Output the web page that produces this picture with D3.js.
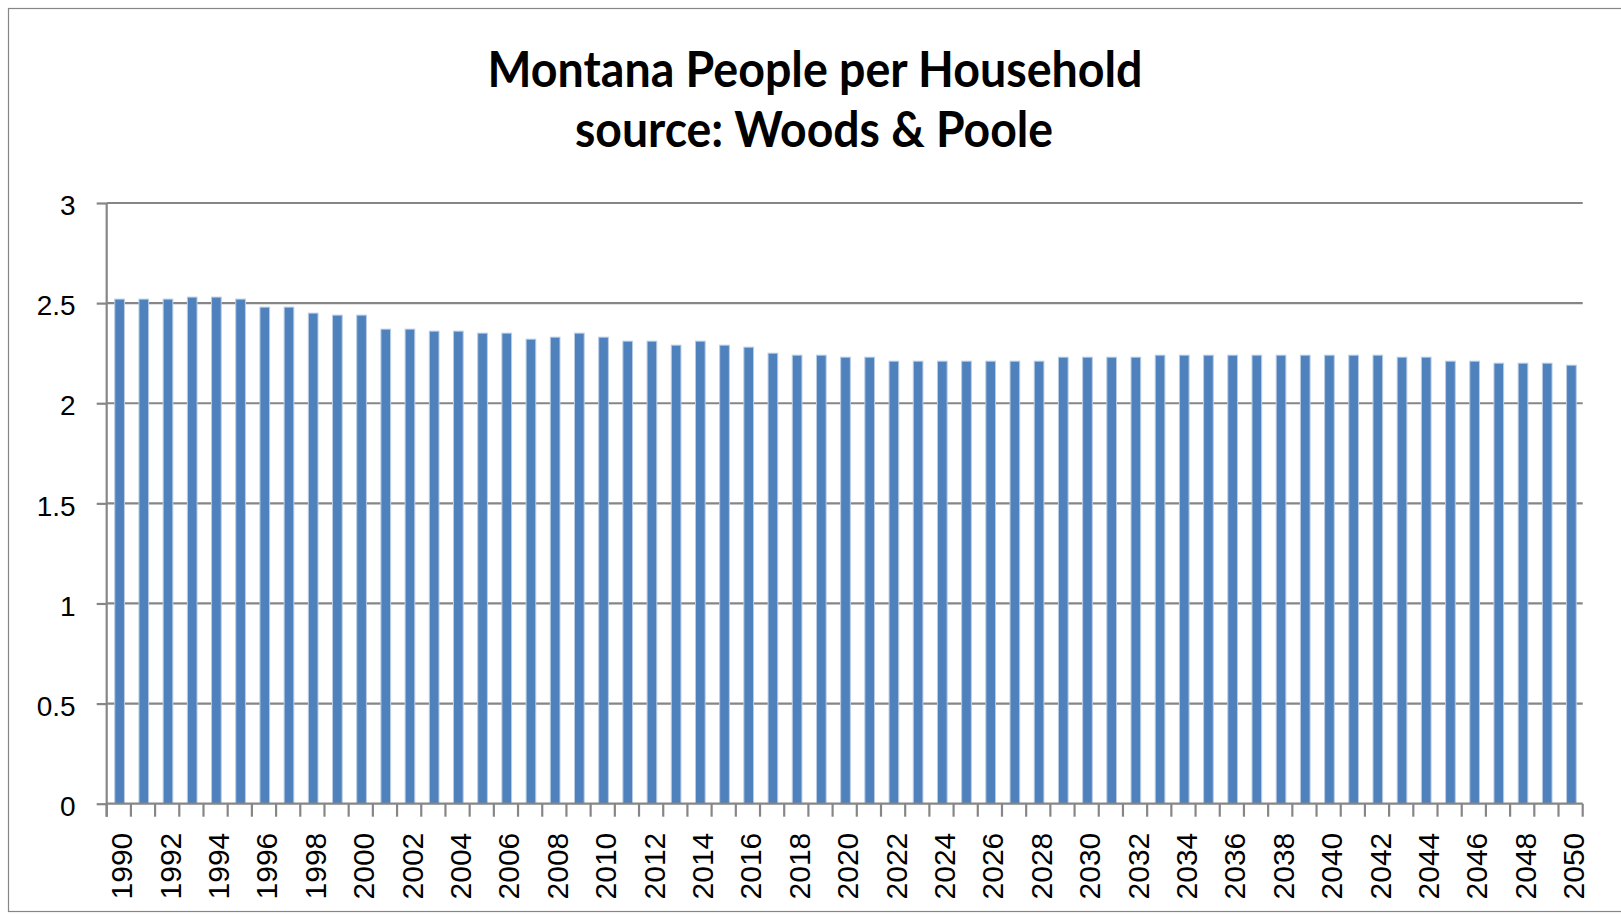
<!DOCTYPE html>
<html>
<head>
<meta charset="utf-8">
<script src="https://cdn.jsdelivr.net/npm/d3@7/dist/d3.min.js"></script>
<style>
  html, body { margin: 0; padding: 0; background: #ffffff; }
  svg { display: block; }
</style>
</head>
<body>
<svg id="chart" width="1621" height="922"></svg>
<script>
// Montana average household size, 1990–2050 (Woods & Poole)
const years = d3.range(1990, 2051).map(String);
const peoplePerHousehold = [
  2.52, 2.52, 2.52, 2.53, 2.53, 2.52, 2.48, 2.48, 2.45, 2.44,
  2.44, 2.37, 2.37, 2.36, 2.36, 2.35, 2.35, 2.32, 2.33, 2.35,
  2.33, 2.31, 2.31, 2.29, 2.31, 2.29, 2.28, 2.25, 2.24, 2.24,
  2.23, 2.23, 2.21, 2.21, 2.21, 2.21, 2.21, 2.21, 2.21, 2.23,
  2.23, 2.23, 2.23, 2.24, 2.24, 2.24, 2.24, 2.24, 2.24, 2.24,
  2.24, 2.24, 2.24, 2.23, 2.23, 2.21, 2.21, 2.20, 2.20, 2.20,
  2.19
];
const yTicks = [0, 0.5, 1, 1.5, 2, 2.5, 3];
const yTickLabels = ["0", "0.5", "1", "1.5", "2", "2.5", "3"];
const xTickLabels = years.filter((d, i) => i % 2 === 0);
const titleLines = ["Montana People per Household", "source: Woods & Poole"];

const data = years.map((y, i) => ({ year: y, value: peoplePerHousehold[i] }));

const svg = d3.select("#chart");
const plot = { left: 106.7, right: 1582.7, top: 203, bottom: 803.7 };
const gridColor = "#868686";
const barColor = "#4f81bd";

// Outer chart frame
svg.append("rect")
  .attr("x", 8.5).attr("y", 8.5)
  .attr("width", 1640).attr("height", 903)
  .attr("fill", "#ffffff")
  .attr("stroke", gridColor).attr("stroke-width", 1.2);

// Title
const titleFont = "Lato, 'Open Sans', 'Liberation Sans', sans-serif";
const titleSpecs = [
  { text: titleLines[0], cx: 815, y: 87, len: 655 },
  { text: titleLines[1], cx: 814, y: 147, len: 478 }
];
svg.selectAll("text.title")
  .data(titleSpecs)
  .join("text")
  .attr("class", "title")
  .attr("x", d => d.cx)
  .attr("y", d => d.y)
  .attr("text-anchor", "middle")
  .attr("font-family", titleFont)
  .attr("font-weight", "bold")
  .attr("font-size", 49)
  .attr("textLength", d => d.len)
  .attr("lengthAdjust", "spacingAndGlyphs")
  .attr("fill", "#000000")
  .text(d => d.text);

// Scales
const x = d3.scaleBand()
  .domain(years)
  .range([plot.left, plot.right])
  .paddingInner(0.6)
  .paddingOuter(0.3);

const y = d3.scaleLinear()
  .domain([0, 3])
  .range([plot.bottom, plot.top]);

const step = x.step();
const gapHalf = (step - x.bandwidth()) / 2;

// Horizontal gridlines
svg.append("g")
  .selectAll("line")
  .data(yTicks.filter(d => d > 0))
  .join("line")
  .attr("x1", plot.left).attr("x2", plot.right)
  .attr("y1", d => y(d)).attr("y2", d => y(d))
  .attr("stroke", gridColor).attr("stroke-width", 2.2);

// Y axis
const yAxis = d3.axisLeft(y)
  .tickValues(yTicks)
  .tickFormat((d, i) => yTickLabels[i])
  .tickSize(10)
  .tickPadding(0);
const gy = svg.append("g")
  .attr("transform", `translate(${plot.left},0)`)
  .call(yAxis);
gy.select(".domain").remove();
gy.selectAll(".tick line").attr("stroke", gridColor).attr("stroke-width", 2.2);
gy.selectAll(".tick text")
  .attr("x", -31)
  .attr("dy", "0.42em")
  .attr("font-family", "'Liberation Sans', Arial, sans-serif")
  .attr("font-size", 28)
  .attr("fill", "#000000");
svg.append("line")
  .attr("x1", plot.left).attr("x2", plot.left)
  .attr("y1", y(3)).attr("y2", plot.bottom + 13)
  .attr("stroke", gridColor).attr("stroke-width", 2.2);

// Bars
svg.append("g")
  .selectAll("rect")
  .data(data)
  .join("rect")
  .attr("x", d => x(d.year) + 0.8)
  .attr("y", d => y(d.value))
  .attr("width", x.bandwidth())
  .attr("height", d => y(0) - y(d.value))
  .attr("fill", barColor)
  .attr("stroke", "#b9cde5")
  .attr("stroke-width", 1);

// X axis line
svg.append("line")
  .attr("x1", plot.left).attr("x2", plot.right)
  .attr("y1", plot.bottom).attr("y2", plot.bottom)
  .attr("stroke", gridColor).attr("stroke-width", 2.2);

// Tick marks between categories
const boundaries = years.map(d => x(d) - gapHalf).concat([x(years[years.length - 1]) + x.bandwidth() + gapHalf]);
svg.append("g")
  .selectAll("line")
  .data(boundaries)
  .join("line")
  .attr("x1", d => d).attr("x2", d => d)
  .attr("y1", plot.bottom).attr("y2", plot.bottom + 13)
  .attr("stroke", gridColor).attr("stroke-width", 2.2);

// Year labels, every other year, rotated
svg.append("g")
  .selectAll("text")
  .data(xTickLabels)
  .join("text")
  .attr("transform", d => `translate(${x(d) + x.bandwidth() / 2 + 3},${plot.bottom + 29}) rotate(-90)`)
  .attr("text-anchor", "end")
  .attr("dy", "0.35em")
  .attr("font-family", "'Liberation Sans', Arial, sans-serif")
  .attr("font-size", 30)
  .attr("fill", "#000000")
  .text(d => d);
</script>
</body>
</html>
